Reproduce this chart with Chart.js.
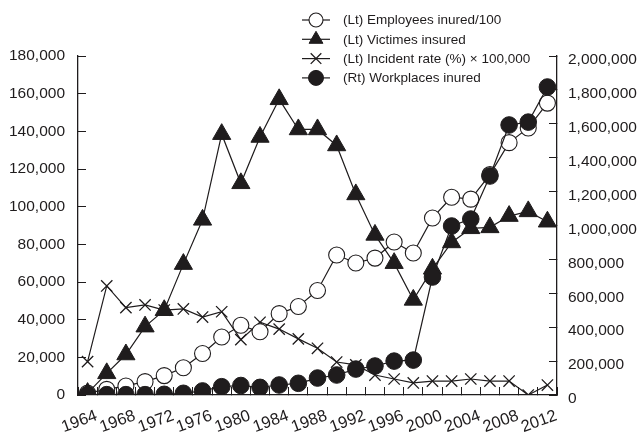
<!DOCTYPE html>
<html>
<head>
<meta charset="utf-8">
<script src="https://cdn.jsdelivr.net/npm/chart.js@4.4.1/dist/chart.umd.min.js"></script>
<style>
html,body{margin:0;padding:0;background:#ffffff;}
#wrap{width:640px;height:434px;position:relative;}
</style>
</head>
<body>
<div id="wrap"><canvas id="c" width="640" height="434"></canvas></div>
<script>
const years = [1964,1966,1968,1970,1972,1974,1976,1978,1980,1982,1984,1986,1988,1990,1992,1994,1996,1998,2000,2002,2004,2006,2008,2010,2012];
const employeesPer100 = [1000,3000,4800,7100,10300,14500,22000,30800,37000,33600,43200,47000,55500,74300,70100,72700,81200,75400,94000,105000,104000,117000,134000,141800,155000];
const victimsInsured = [1000,11500,21500,36300,45000,69500,93000,138500,112400,137000,157000,141000,141000,132500,106500,85000,70000,50500,67000,81000,88500,89000,95000,97500,92000];
const incidentRate = [17700,57900,46400,47800,45100,45700,41400,44200,29400,38600,35000,29800,24800,17500,16000,10600,8500,6400,7400,7400,8500,7400,7400,0,5300];
const workplacesInsured = [2000,2000,2000,2000,4000,10000,24000,49000,56000,45000,59000,69000,100000,118000,153000,171000,200000,206000,696000,997000,1038000,1292000,1593000,1610000,1817000];
const seriesLabels = ['(Lt) Employees inured/100','(Lt) Victimes insured','(Lt) Incident rate (%) \u00d7 100,000','(Rt) Workplaces inured'];
const leftTickStep = 20000, leftMax = 180000;
const rightTickStep = 200000, rightMax = 2000000;

const INK = '#1f1c1d';
const FONT = "'Liberation Sans', Arial, sans-serif";

const legendPlugin = {
  id: 'stackedLegend',
  afterDraw(chart) {
    const ctx = chart.ctx;
    const rowY = [20, 39.3, 58.6, 77.9];
    chart.data.datasets.forEach((ds, i) => {
      const y = rowY[i];
      ctx.save();
      ctx.strokeStyle = INK;
      ctx.lineWidth = 1.2;
      ctx.beginPath();
      ctx.moveTo(302, y);
      ctx.lineTo(330, y);
      ctx.stroke();
      ctx.fillStyle = ds.pointBackgroundColor;
      ctx.strokeStyle = ds.pointBorderColor;
      ctx.lineWidth = ds.pointBorderWidth;
      Chart.helpers.drawPoint(ctx, {pointStyle: ds.pointStyle, radius: ds.legendRadius, borderWidth: ds.pointBorderWidth, rotation: 0}, 316, y);
      ctx.fillStyle = INK;
      ctx.font = '13.5px ' + FONT;
      ctx.textBaseline = 'middle';
      ctx.textAlign = 'left';
      ctx.fillText(ds.label, 343, y + 0.5);
      ctx.restore();
    });
  }
};

const xFont = {family: FONT, size: 16.5};
const yFont = {family: FONT, size: 15.5};

new Chart(document.getElementById('c'), {
  type: 'line',
  data: {
    labels: years.map(String),
    datasets: [
      {label: seriesLabels[0], data: employeesPer100, yAxisID: 'y', order: 2,
       borderColor: INK, borderWidth: 1.2, tension: 0,
       pointStyle: 'circle', pointRadius: 8, pointBackgroundColor: '#ffffff', pointBorderColor: INK, pointBorderWidth: 1.1, legendRadius: 7},
      {label: seriesLabels[1], data: victimsInsured, yAxisID: 'y', order: 1,
       borderColor: INK, borderWidth: 1.2, tension: 0,
       pointStyle: 'triangle', pointRadius: 10.5, pointBackgroundColor: INK, pointBorderColor: INK, pointBorderWidth: 1, legendRadius: 8},
      {label: seriesLabels[2], data: incidentRate, yAxisID: 'y', order: 3,
       borderColor: INK, borderWidth: 1.2, tension: 0,
       pointStyle: 'crossRot', pointRadius: 8, pointBackgroundColor: INK, pointBorderColor: INK, pointBorderWidth: 1.3, legendRadius: 7.5},
      {label: seriesLabels[3], data: workplacesInsured, yAxisID: 'y2', order: 0,
       borderColor: INK, borderWidth: 1.2, tension: 0,
       pointStyle: 'circle', pointRadius: 8.3, pointBackgroundColor: INK, pointBorderColor: INK, pointBorderWidth: 1, legendRadius: 7.5}
    ]
  },
  options: {
    responsive: false,
    animation: false,
    events: [],
    layout: {padding: {top: 56, left: 0, right: 0, bottom: 0}},
    plugins: {legend: {display: false}, tooltip: {enabled: false}},
    scales: {
      x: {
        type: 'category',
        offset: true,
        grid: {display: true, offset: true, drawOnChartArea: false, drawTicks: true, tickLength: -8, tickColor: INK, tickWidth: 1},
        border: {display: true, color: INK, width: 1.3},
        ticks: {
          autoSkip: false, maxRotation: 20, minRotation: 20, padding: 19, labelOffset: 9,
          color: INK, font: xFont,
          callback(v, i) { return i % 2 === 0 ? this.getLabelForValue(v) : ''; }
        },
        afterFit(s) { s.height = 39; }
      },
      y: {
        position: 'left', min: 0, max: leftMax,
        grid: {display: true, drawOnChartArea: false, drawTicks: true, tickLength: -8, tickColor: INK, tickWidth: 1},
        border: {display: true, color: INK, width: 1.3},
        ticks: {stepSize: leftTickStep, padding: 21, color: INK, font: yFont,
          callback: v => v.toLocaleString('en-US')},
        afterFit(s) { s.width = 78; }
      },
      y2: {
        position: 'right', min: 0, max: rightMax,
        grid: {display: true, drawOnChartArea: false, drawTicks: true, tickLength: -8, tickColor: INK, tickWidth: 1},
        border: {display: true, color: INK, width: 1.3},
        ticks: {stepSize: rightTickStep, padding: 19, labelOffset: 4, color: INK, font: yFont,
          callback: v => v.toLocaleString('en-US')},
        afterFit(s) { s.width = 83; }
      }
    }
  },
  plugins: [legendPlugin]
});
</script>
</body>
</html>
